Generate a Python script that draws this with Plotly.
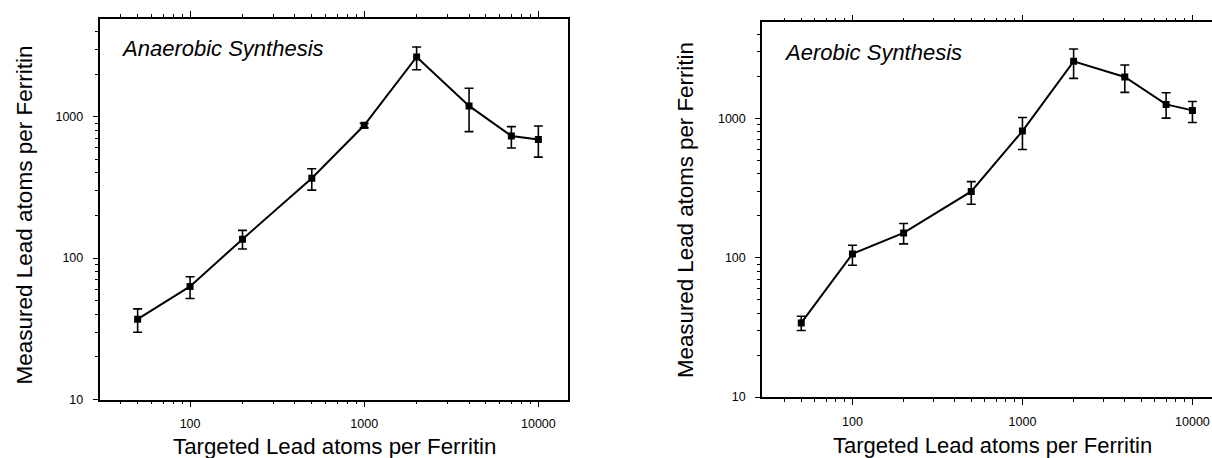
import plotly.graph_objects as go

# ---------------- data ----------------
targeted = [50, 100, 200, 500, 1000, 2000, 4000, 7000, 10000]

anaerobic = [37, 63, 136, 367, 868, 2640, 1190, 729, 690]
anaerobic_hi = [43.7, 73.8, 157, 428, 897, 3105, 1588, 849, 859]
anaerobic_lo = [29.9, 51.8, 116, 302, 832, 2143, 783, 600, 517]

aerobic = [34.0, 106.5, 150.7, 299, 811, 2568, 1982, 1261, 1142]
aerobic_hi = [38.0, 123, 176, 352, 1016, 3147, 2415, 1528, 1324]
aerobic_lo = [30.0, 88.3, 125.6, 242, 598, 1937, 1537, 1005, 935]

x_major = [100, 1000, 10000]
x_major_text = ["100", "1000", "10000"]
x_minor = [40, 50, 60, 70, 80, 90, 200, 300, 400, 500, 600, 700, 800, 900,
           2000, 3000, 4000, 5000, 6000, 7000, 8000, 9000]
y_major = [10, 100, 1000]
y_major_text = ["10", "100", "1000"]
y_minor = [20, 30, 40, 50, 60, 70, 80, 90, 200, 300, 400, 500, 600, 700, 800, 900,
           2000, 3000, 4000]

panel_titles = ["Anaerobic Synthesis", "Aerobic Synthesis"]
x_title = "Targeted Lead atoms per Ferritin"
y_title = "Measured Lead atoms per Ferritin"

# ---------------- layout geometry ----------------
W, H = 1212, 458
FONT = "Arial, Liberation Sans, sans-serif"


def px_x(p):
    return p / W


def px_y(p):
    return (H - p) / H


fig = go.Figure()

series = [
    (anaerobic, anaerobic_hi, anaerobic_lo, "x", "y"),
    (aerobic, aerobic_hi, aerobic_lo, "x2", "y2"),
]
for vals, hi, lo, xa, ya in series:
    fig.add_trace(go.Scatter(
        x=targeted, y=vals, xaxis=xa, yaxis=ya,
        mode="lines+markers",
        line=dict(color="black", width=2),
        marker=dict(symbol="square", size=7, color="black"),
        error_y=dict(type="data", symmetric=False,
                     array=[h - v for h, v in zip(hi, vals)],
                     arrayminus=[v - l for v, l in zip(vals, lo)],
                     color="black", thickness=1.6, width=4.5),
        showlegend=False,
    ))

yr = [1.0, 3.69]


def xaxis(domain, rng, anchor):
    return dict(
        type="log", domain=domain, range=rng, anchor=anchor,
        showline=True, linecolor="black", linewidth=1.5, mirror="ticks",
        ticks="outside", ticklen=6, tickwidth=1.3, tickcolor="black",
        tickmode="array", tickvals=x_major, ticktext=x_major_text,
        tickfont=dict(family=FONT, size=12.5, color="black"),
        ticklabelstandoff=6,
        minor=dict(tickmode="array", tickvals=x_minor, ticks="outside",
                   ticklen=3, tickwidth=1.2, tickcolor="black", showgrid=False),
        showgrid=False, zeroline=False,
    )


def yaxis(domain, anchor, mirror):
    return dict(
        type="log", domain=domain, range=yr, anchor=anchor,
        showline=True, linecolor="black", linewidth=1.5, mirror=mirror,
        ticks="outside", ticklen=5, tickwidth=1.3, tickcolor="black",
        tickmode="array", tickvals=y_major, ticktext=y_major_text,
        tickfont=dict(family=FONT, size=12.5, color="black"),
        ticklabelstandoff=7,
        minor=dict(tickmode="array", tickvals=y_minor, ticks="outside",
                   ticklen=3, tickwidth=1.2, tickcolor="black", showgrid=False),
        showgrid=False, zeroline=False,
    )


L_dom_x = [px_x(99.5), px_x(568.3)]
L_dom_y = [px_y(399.5), px_y(19)]
R_dom_x = [px_x(762), 1.0]
R_dom_y = [px_y(397), px_y(22.3)]
r_left = 1.468
r_right = r_left + (1212 - 762) / 170.0

fig.update_layout(
    width=W, height=H,
    margin=dict(l=0, r=0, t=0, b=0, autoexpand=False),
    paper_bgcolor="white", plot_bgcolor="white",
    xaxis=xaxis(L_dom_x, [1.480, 4.172], "y"),
    yaxis=yaxis(L_dom_y, "x", True),
    xaxis2=xaxis(R_dom_x, [r_left, r_right], "y2"),
    yaxis2=yaxis(R_dom_y, "x2", False),
    font=dict(family=FONT, color="black"),
)

ann = [
    # panel labels
    dict(text=panel_titles[0], x=px_x(119), y=px_y(48), xanchor="left", yanchor="middle",
         font=dict(size=22, style="italic")),
    dict(text=panel_titles[1], x=px_x(782), y=px_y(52.5), xanchor="left", yanchor="middle",
         font=dict(size=22, style="italic")),
    # axis titles
    dict(text=x_title, x=px_x(334), y=px_y(446.5), xanchor="center", yanchor="middle",
         font=dict(size=22.3)),
    dict(text=x_title, x=px_x(993), y=px_y(445), xanchor="center", yanchor="middle",
         font=dict(size=22)),
    dict(text=y_title, x=px_x(24), y=px_y(215.5), xanchor="center", yanchor="middle",
         textangle=-90, font=dict(size=22.5)),
    dict(text=y_title, x=px_x(686), y=px_y(210), xanchor="center", yanchor="middle",
         textangle=-90, font=dict(size=22.3)),
]
for a in ann:
    a.update(xref="paper", yref="paper", showarrow=False)
    a["font"].update(family=FONT, color="black")
fig.update_layout(annotations=ann)

fig.write_html("out.html", post_script="document.body.style.margin='0';",
               config={"displayModeBar": False})
